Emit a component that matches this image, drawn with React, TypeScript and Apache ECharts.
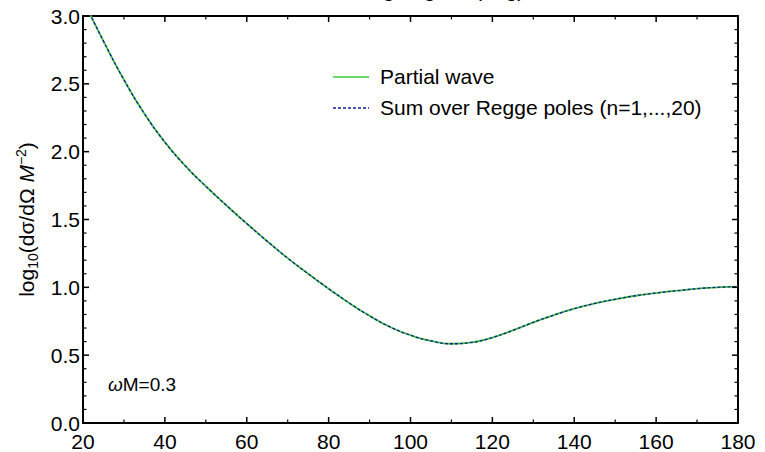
import React, { useEffect, useRef } from "react";
import * as echarts from "echarts";

const angles = [20, 25, 30, 35, 40, 45, 50, 55, 60, 65, 70, 75, 80, 85, 90, 95, 100, 105, 110, 115, 120, 125, 130, 135, 140, 145, 150, 155, 160, 165, 170, 175, 180];
const partialWave = [3.12, 2.815, 2.53, 2.28, 2.07, 1.895, 1.745, 1.605, 1.47, 1.34, 1.215, 1.10, 0.99, 0.885, 0.79, 0.708, 0.647, 0.605, 0.584, 0.594, 0.63, 0.683, 0.742, 0.795, 0.843, 0.881, 0.912, 0.938, 0.958, 0.975, 0.99, 1.0, 1.005];
const reggeSum = [3.12, 2.815, 2.53, 2.28, 2.07, 1.895, 1.745, 1.605, 1.47, 1.34, 1.215, 1.10, 0.99, 0.885, 0.79, 0.708, 0.647, 0.605, 0.584, 0.594, 0.63, 0.683, 0.742, 0.795, 0.843, 0.881, 0.912, 0.938, 0.958, 0.975, 0.99, 1.0, 1.005];
const seriesNames = ["Partial wave", "Sum over Regge poles (n=1,...,20)"];

const xMajorTicks = [20, 40, 60, 80, 100, 120, 140, 160, 180];
const xMinorTicks = [30, 50, 70, 90, 110, 130, 150, 170];
const yMajorTicks = [0, 0.5, 1.0, 1.5, 2.0, 2.5, 3.0];
const yMinorTicks = [0.1, 0.2, 0.3, 0.4, 0.6, 0.7, 0.8, 0.9, 1.1, 1.2, 1.3, 1.4, 1.6, 1.7, 1.8, 1.9, 2.1, 2.2, 2.3, 2.4, 2.6, 2.7, 2.8, 2.9];

const X_MIN = 20;
const X_MAX = 180;
const Y_MIN = 0;
const Y_MAX = 3;

const FONT = "'Liberation Sans', Arial, sans-serif";
const GREEN = "#3ccc3c";
const BLUE = "#1a1a96";

export default function App() {
  const ref = useRef<HTMLDivElement>(null);
  useEffect(() => {
    if (!ref.current) return;
    const chart = echarts.init(ref.current, null, { renderer: "svg" });
    const frameLine = { show: true, onZero: false, lineStyle: { color: "#000", width: 2 } };

    const xTickData = [...xMajorTicks.map((v) => [v, Y_MIN, 6, 1.5]), ...xMinorTicks.map((v) => [v, Y_MIN, 3.5, 1.2])];
    const yTickData = [...yMajorTicks.map((v) => [X_MIN, v, 6, 1.5]), ...yMinorTicks.map((v) => [X_MIN, v, 3.5, 1.2])];

    const renderXTick = (_params: any, api: any) => {
      const v = api.value(0);
      const len = api.value(2);
      const w = api.value(3);
      const b = api.coord([v, Y_MIN]);
      const t = api.coord([v, Y_MAX]);
      return {
        type: "group",
        children: [
          { type: "line", shape: { x1: b[0], y1: b[1], x2: b[0], y2: b[1] - len }, style: { stroke: "#000", lineWidth: w } },
          { type: "line", shape: { x1: t[0], y1: t[1], x2: t[0], y2: t[1] + len }, style: { stroke: "#000", lineWidth: w } },
        ],
      };
    };
    const renderYTick = (_params: any, api: any) => {
      const v = api.value(1);
      const len = api.value(2);
      const w = api.value(3);
      const l = api.coord([X_MIN, v]);
      const r = api.coord([X_MAX, v]);
      return {
        type: "group",
        children: [
          { type: "line", shape: { x1: l[0], y1: l[1], x2: l[0] + len, y2: l[1] }, style: { stroke: "#000", lineWidth: w } },
          { type: "line", shape: { x1: r[0], y1: r[1], x2: r[0] - len, y2: r[1] }, style: { stroke: "#000", lineWidth: w } },
        ],
      };
    };

    const option: any = {
      animation: false,
      textStyle: { fontFamily: FONT },
      grid: { left: 83, right: 27, top: 16, bottom: 26, containLabel: false },
      graphic: [
        { type: "text", left: 300, top: -21, style: { text: "Scattering angle θ (deg)", font: `21px ${FONT}`, fill: "#000" } },
        { type: "line", shape: { x1: 333, y1: 77, x2: 369, y2: 77 }, style: { stroke: GREEN, lineWidth: 1.6 } },
        { type: "text", left: 380, top: 66, style: { text: seriesNames[0], font: `21px ${FONT}`, fill: "#000" } },
        { type: "line", shape: { x1: 333, y1: 108, x2: 369, y2: 108 }, style: { stroke: BLUE, lineWidth: 1.4, lineDash: [3, 2] } },
        { type: "text", left: 380, top: 97, style: { text: seriesNames[1], font: `21px ${FONT}`, fill: "#000" } },
        {
          type: "text",
          left: 108,
          top: 375,
          style: { text: "{w|ω}M=0.3", font: `19px ${FONT}`, fill: "#000", rich: { w: { fontStyle: "italic", fontSize: 19, fontFamily: FONT } } },
        },
      ],
      xAxis: [
        {
          type: "value",
          min: X_MIN,
          max: X_MAX,
          interval: 20,
          position: "bottom",
          axisLine: frameLine,
          axisTick: { show: false },
          splitLine: { show: false },
          axisLabel: { show: true, fontSize: 21, color: "#000", fontFamily: FONT, margin: 8 },
        },
        {
          type: "value",
          min: X_MIN,
          max: X_MAX,
          interval: 20,
          position: "top",
          axisLine: frameLine,
          axisTick: { show: false },
          splitLine: { show: false },
          axisLabel: { show: false },
        },
      ],
      yAxis: [
        {
          type: "value",
          min: Y_MIN,
          max: Y_MAX,
          interval: 0.5,
          position: "left",
          axisLine: frameLine,
          axisTick: { show: false },
          splitLine: { show: false },
          axisLabel: { show: true, fontSize: 21, color: "#000", fontFamily: FONT, margin: 3, formatter: (v: number) => v.toFixed(1) },
          name: "log{sub|10}(dσ/dΩ {i|M}{sup|−2})",
          nameLocation: "middle",
          nameGap: 42,
          nameRotate: 90,
          nameTextStyle: {
            fontSize: 21,
            color: "#000",
            fontFamily: FONT,
            rich: {
              sub: { fontSize: 14, verticalAlign: "bottom", lineHeight: 26, fontFamily: FONT },
              sup: { fontSize: 14, verticalAlign: "top", lineHeight: 26, fontFamily: FONT },
              i: { fontSize: 21, fontStyle: "italic", fontFamily: FONT },
            },
          },
        },
        {
          type: "value",
          min: Y_MIN,
          max: Y_MAX,
          interval: 0.5,
          position: "right",
          axisLine: frameLine,
          axisTick: { show: false },
          splitLine: { show: false },
          axisLabel: { show: false },
        },
      ],
      series: [
        {
          name: seriesNames[0],
          type: "line",
          xAxisIndex: 0,
          yAxisIndex: 0,
          smooth: 0.5,
          symbol: "none",
          data: angles.map((a, i) => [a, partialWave[i]]),
          lineStyle: { color: GREEN, width: 1.8 },
        },
        {
          name: seriesNames[1],
          type: "line",
          xAxisIndex: 0,
          yAxisIndex: 0,
          smooth: 0.5,
          symbol: "none",
          data: angles.map((a, i) => [a, reggeSum[i]]),
          lineStyle: { color: BLUE, width: 1.3, type: [3, 2] },
        },
        {
          name: "xTicks",
          type: "custom",
          xAxisIndex: 0,
          yAxisIndex: 0,
          silent: true,
          clip: false,
          z: 10,
          encode: { x: 0, y: 1 },
          data: xTickData,
          renderItem: renderXTick,
        },
        {
          name: "yTicks",
          type: "custom",
          xAxisIndex: 0,
          yAxisIndex: 0,
          silent: true,
          clip: false,
          z: 10,
          encode: { x: 0, y: 1 },
          data: yTickData,
          renderItem: renderYTick,
        },
      ],
    };
    chart.setOption(option);
    return () => chart.dispose();
  }, []);
  return <div ref={ref} style={{ width: 765, height: 452, position: "absolute", left: 0, top: 0, background: "#fff" }} />;
}
